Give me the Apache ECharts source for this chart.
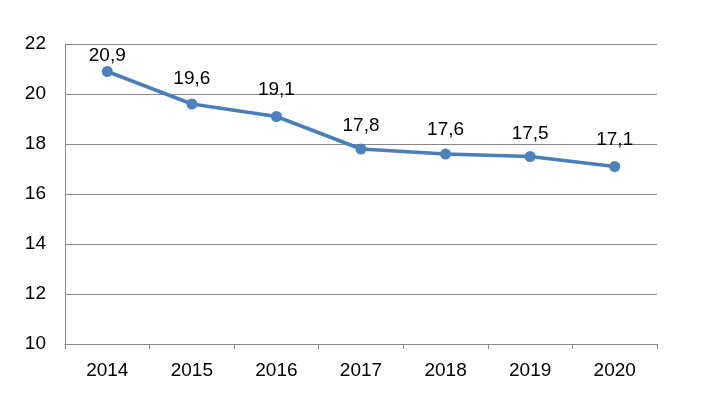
<!DOCTYPE html>
<html><head><meta charset="utf-8">
<script src="https://cdn.jsdelivr.net/npm/echarts@6/dist/echarts.min.js"></script>
<style>html,body{margin:0;padding:0;background:#fff}#c{width:706px;height:394px}</style>
</head><body><div id="c"></div>
<script>
var categories = ['2014','2015','2016','2017','2018','2019','2020'];
var values = [20.9, 19.6, 19.1, 17.8, 17.6, 17.5, 17.1];
var yMin = 10, yMax = 22, yStep = 2;
// label lift above each point (px), style only
var labelLift = [17, 26, 28, 24, 25, 24, 28];
var chart = echarts.init(document.getElementById('c'));
var font = 'Liberation Sans, Arial, sans-serif';
var seriesData = values.map(function(v, i){
  return {value: v, label: {offset: [0, -labelLift[i] + 1]}};
});
chart.setOption({
  animation: false,
  grid: {left: 65, right: 49, top: 44, bottom: 50},
  xAxis: {
    type: 'category', data: categories, boundaryGap: true,
    axisLine: {lineStyle: {color: '#868686', width: 1}},
    axisTick: {show: true, length: 5, lineStyle: {color: '#868686'}},
    axisLabel: {color: '#000', fontFamily: font, fontSize: 19, margin: 17}
  },
  yAxis: {
    type: 'value', min: yMin, max: yMax, interval: yStep,
    axisLine: {show: true, lineStyle: {color: '#868686', width: 1}},
    axisTick: {show: false},
    splitLine: {lineStyle: {color: '#868686', width: 1}},
    axisLabel: {color: '#000', fontFamily: font, fontSize: 19, margin: 19}
  },
  series: [{
    type: 'line', data: seriesData,
    lineStyle: {color: '#4A7EBB', width: 3.5},
    itemStyle: {color: '#4F81BD'},
    symbol: 'circle', symbolSize: 11,
    label: {show: true, position: 'inside', color: '#000', fontFamily: font, fontSize: 19,
      formatter: function(p){ return String(p.value.toFixed(1)).replace('.', ','); }}
  }]
});
</script></body></html>
